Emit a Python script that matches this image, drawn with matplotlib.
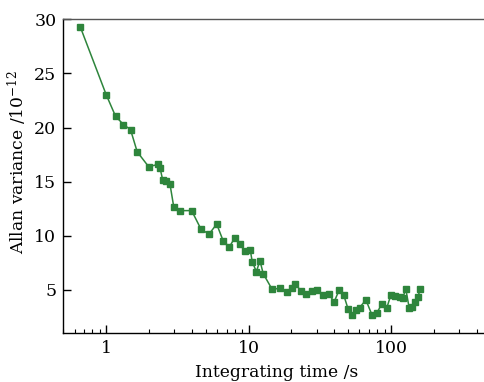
import numpy as np
import matplotlib
matplotlib.use('Agg')
import matplotlib.pyplot as plt
from matplotlib.ticker import LogLocator, FixedLocator

# integrating time (s) and Allan variance (x1e-12)
tau = [0.66, 1.0, 1.163, 1.323, 1.482, 1.652, 1.984, 2.321, 2.39, 2.49,
       2.634, 2.801, 2.984, 3.314, 3.98, 4.64, 5.28, 5.97, 6.63, 7.32,
       7.99, 8.66, 9.36, 10.26, 10.6, 11.34, 12.01, 12.67, 14.61, 16.63,
       18.68, 20.03, 21.34, 23.17, 25.41, 27.78, 29.99, 33.37, 36.7, 39.87,
       43.2, 46.64, 50.0, 53.1, 56.4, 60.1, 66.6, 73.4, 79.6, 86.3,
       93.1, 99.5, 107.4, 116.5, 121.3, 126.9, 134.1, 140.7, 147.7, 153.8,
       161.0]
avar = [29.26, 23.04, 21.05, 20.27, 19.81, 17.75, 16.39, 16.58, 16.25, 15.19,
        15.07, 14.82, 12.64, 12.31, 12.32, 10.58, 10.15, 11.07, 9.52, 8.95,
        9.79, 9.23, 8.60, 8.72, 7.61, 6.66, 7.70, 6.48, 5.05, 5.12,
        4.77, 5.12, 5.55, 4.91, 4.58, 4.89, 4.93, 4.49, 4.58, 3.87,
        4.97, 4.47, 3.20, 2.69, 3.11, 3.34, 4.06, 2.69, 2.86, 3.71,
        3.27, 4.47, 4.40, 4.33, 4.26, 5.09, 3.32, 3.41, 3.82, 4.35,
        5.03]
yticks = [5, 10, 15, 20, 25, 30]

plt.rcParams['font.family'] = 'DejaVu Serif'
plt.rcParams['mathtext.fontset'] = 'dejavuserif'

fig = plt.figure(figsize=(4.85, 3.82), dpi=100)
ax = fig.add_axes([0.1305, 0.1283, 0.881, 0.821])

ax.plot(tau, avar, '-s', color='#2e853c', lw=1.1, ms=4,
        mec='#2e853c', mfc='#2e853c')

ax.set_xscale('log')
ax.set_xlim(0.5, 500)
ax.set_ylim(1, 30)
ax.yaxis.set_major_locator(FixedLocator(yticks))
ax.xaxis.set_major_locator(LogLocator(base=10))
ax.xaxis.set_minor_locator(LogLocator(base=10, subs=np.arange(2, 10)))
ax.set_xticklabels([], minor=True)
ax.xaxis.set_major_formatter(plt.FuncFormatter(lambda v, p: '%g' % v))

ax.tick_params(which='major', direction='in', length=6, width=1, labelsize=12.5, pad=5)
ax.tick_params(which='minor', direction='in', length=3, width=0.8)
ax.tick_params(top=False, right=False, which='both')
ax.spines['right'].set_visible(False)
for s in ['left', 'bottom', 'top']:
    ax.spines[s].set_linewidth(1.0)
ax.spines['top'].set_color('#555555')

ax.set_xlabel('Integrating time /s', fontsize=12.3, labelpad=5)
ax.set_ylabel(r'Allan variance /10$^{-12}$', fontsize=12.3)
ax.yaxis.set_label_coords(-0.08, 0.545)

fig.savefig('out.png', dpi=100)
